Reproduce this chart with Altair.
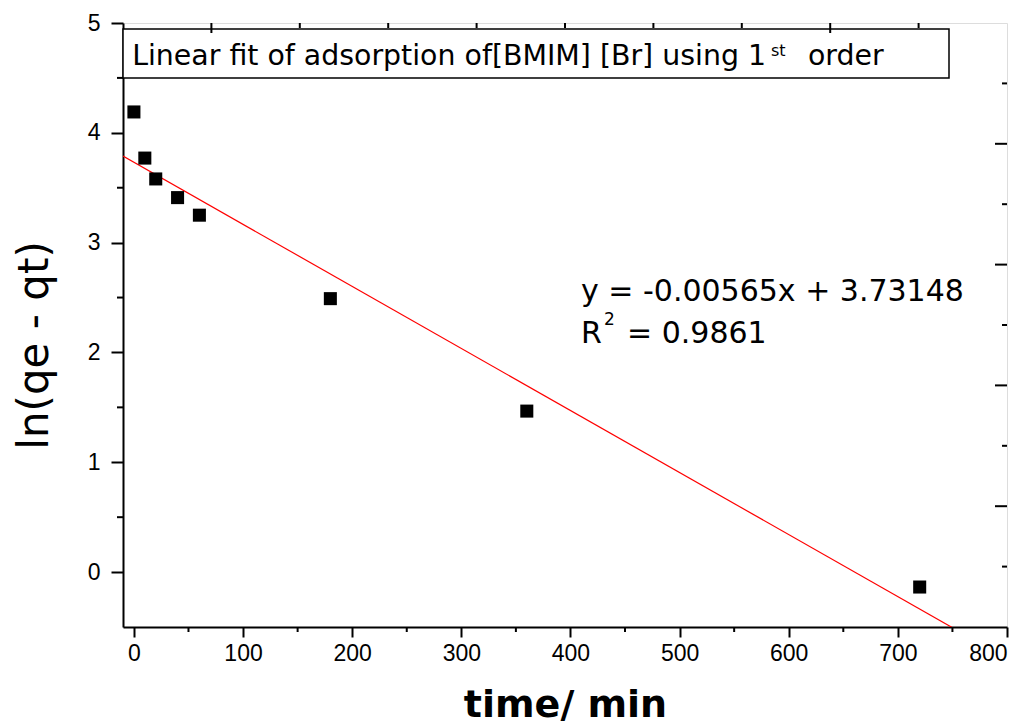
import altair as alt
import pandas as pd

# ---- data ----
time_min = [0, 10, 20, 40, 60, 180, 360, 720]
ln_qe_qt = [4.19, 3.77, 3.58, 3.41, 3.25, 2.49, 1.466, -0.136]

fit_x = [-10, 750]
fit_y = [3.788, -0.506]

x_major = [0, 100, 200, 300, 400, 500, 600, 700, 800]
x_minor = [50, 150, 250, 350, 450, 550, 650, 750]
y_major = [0, 1, 2, 3, 4, 5]
y_minor = [0.5, 1.5, 2.5, 3.5, 4.5]

top_major = [0, 7]
top_minor = [1, 2, 3, 4, 5, 6, 8]
right_major = [2, 4, 6, 8]
right_minor = [1, 3, 5, 7, 9]

title_text = "Linear fit of adsorption of[BMIM] [Br] using 1"
title_sup = "st"
title_end = "order"
eq_line1 = "y = -0.00565x + 3.73148"
eq_r = "R"
eq_sup = "2"
eq_rest = "= 0.9861"

W, H = 884, 604
FONT = "DejaVu Sans"
TICKFONT = "Liberation Sans"

xs = alt.Scale(domain=[-10, 800], nice=False, zero=False)
ys = alt.Scale(domain=[-0.5, 5], nice=False, zero=False)
ts = alt.Scale(domain=[-1, 9], nice=False, zero=False)
rs = alt.Scale(domain=[0, 10], nice=False, zero=False)

pts = pd.DataFrame({"t": time_min, "v": ln_qe_qt})
fit = pd.DataFrame({"t": fit_x, "v": fit_y})

x_axis = alt.Axis(values=x_major, tickSize=10, tickWidth=2, tickColor="black",
                  domainWidth=2, domainColor="black", labelFont=TICKFONT, labelFontSize=23,
                  labelColor="black", labelPadding=5, grid=False, format="d",
                  title="time/ min", titleFont=FONT, titleFontSize=38, titleFontWeight="bold",
                  titleColor="black", titleX=442, titleY=89, titleBaseline="alphabetic",
                  titleAlign="center")
y_axis = alt.Axis(values=y_major, tickSize=12, tickWidth=2, tickColor="black",
                  domainWidth=2, domainColor="black", labelFont=TICKFONT, labelFontSize=23,
                  labelColor="black", labelPadding=11, grid=False, format="d",
                  title="ln(qe - qt)", titleFont=FONT, titleFontSize=42, titleFontWeight="normal",
                  titleColor="black", titleAngle=270, titleX=-89, titleY=322,
                  titleBaseline="middle", titleAlign="center")

points = alt.Chart(pts).mark_point(shape="square", filled=True, size=170, color="black",
                                   opacity=1).encode(
    x=alt.X("t:Q", scale=xs, axis=x_axis),
    y=alt.Y("v:Q", scale=ys, axis=y_axis),
)

line = alt.Chart(fit).mark_line(color="#ff0000", strokeWidth=1.2, clip=True).encode(
    x=alt.X("t:Q", scale=xs, axis=None),
    y=alt.Y("v:Q", scale=ys, axis=None),
)

def vrule(vals, scale, y0, y1, width=2):
    df = pd.DataFrame({"p": vals})
    return alt.Chart(df).mark_rule(color="black", strokeWidth=width).encode(
        x=alt.X("p:Q", scale=scale, axis=None),
        y=alt.value(y0), y2=alt.value(y1))

def hrule(vals, scale, x0, x1, width=2):
    df = pd.DataFrame({"p": vals})
    return alt.Chart(df).mark_rule(color="black", strokeWidth=width).encode(
        y=alt.Y("p:Q", scale=scale, axis=None),
        x=alt.value(x0), x2=alt.value(x1))

bottom_minor = vrule(x_minor, xs, H, H + 5)
left_minor = hrule(y_minor, ys, -6, 0)
top_maj = vrule(top_major, ts, 0, 10)
top_min = vrule(top_minor, ts, 0, 5)
right_maj = hrule(right_major, rs, W - 12, W)
right_min = hrule(right_minor, rs, W - 5, W)

box = alt.Chart(pd.DataFrame({"a": [0]})).mark_rect(fill="white", stroke="black",
                                                   strokeWidth=1.5).encode(
    x=alt.value(0), x2=alt.value(826), y=alt.value(6), y2=alt.value(55))

def txt(s, x, y, size, align="left"):
    return alt.Chart(pd.DataFrame({"s": [s]})).mark_text(
        font=FONT, fontSize=size, color="black", align=align, baseline="alphabetic").encode(
        text="s:N", x=alt.value(x), y=alt.value(y))

texts = [
    txt(title_text, 643, 42, 28.4, align="right"),
    txt(title_sup, 648, 33, 16),
    txt(title_end, 685, 42, 28.4),
    txt(eq_line1, 458, 278, 30),
    txt(eq_r, 458, 320, 30),
    txt(eq_sup, 481, 302, 17),
    txt(eq_rest, 504, 320, 30),
]

chart = alt.layer(
    line, points, box, *texts,
    bottom_minor, left_minor, top_maj, top_min, right_maj, right_min,
).resolve_scale(x="independent", y="independent").properties(
    width=W, height=H,
    autosize=alt.AutoSizeParams(type="none"),
    padding={"left": 115, "top": 15, "right": 17, "bottom": 98},
).configure_view(stroke="black", strokeWidth=2.5).configure(background="white")

chart.save("out.html", embed_options={"renderer": "svg", "actions": False})
